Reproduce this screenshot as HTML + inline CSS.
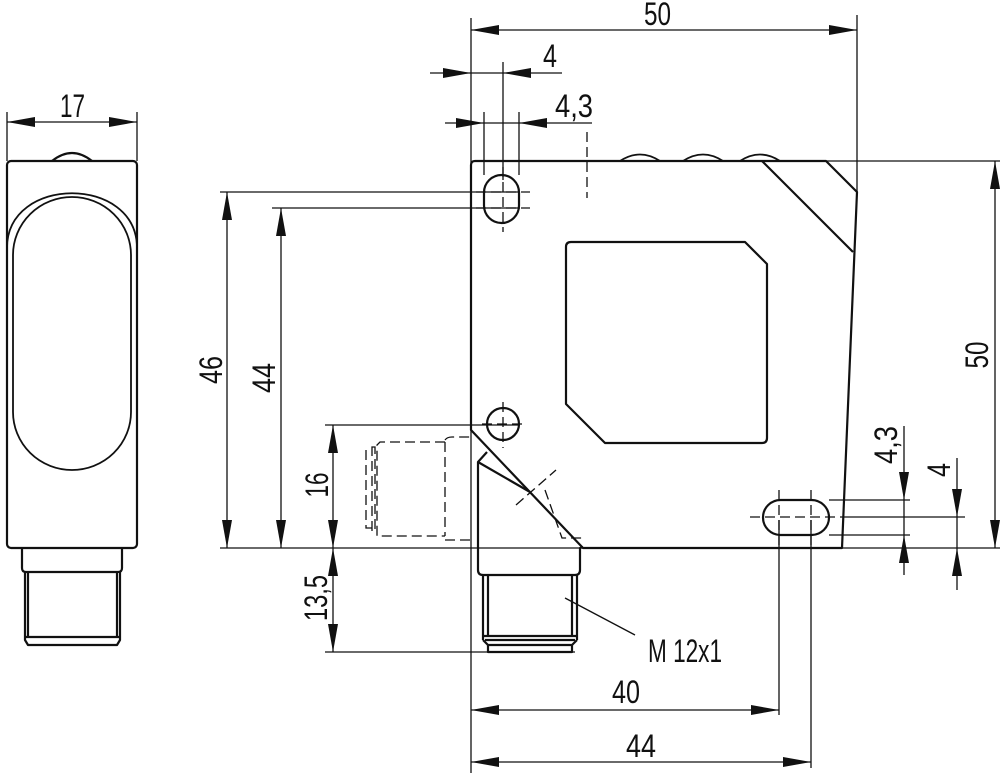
<!DOCTYPE html>
<html><head><meta charset="utf-8"><style>
html,body{margin:0;padding:0;background:#fff}
svg{display:block}
text{font-family:"Liberation Sans",sans-serif;font-size:32px;fill:#111}
</style></head><body>
<svg width="1000" height="773" viewBox="0 0 1000 773" xmlns="http://www.w3.org/2000/svg">
<defs>
<marker id="a" viewBox="0 0 28 10" refX="28" refY="5" markerWidth="28" markerHeight="10" markerUnits="userSpaceOnUse" orient="auto-start-reverse"><path d="M0,0L28,5L0,10z" fill="#111"/></marker>
</defs>
<g fill="none" stroke="#111" stroke-width="2.2" stroke-linejoin="round">
<rect x="7" y="161" width="130" height="387" rx="4"/>
<path d="M52,161 Q72,145 92,161"/>
<path d="M7,248 C7,175 137,175 137,248" stroke-width="1.8"/>
<rect x="13" y="197" width="118" height="273" rx="59" ry="58" stroke-width="1.8"/>
<path d="M22,548 V568 Q22,572 26,572 H118 Q122,572 122,568 V548"/>
<path d="M25,572 V640 L28,645 H117 L120,640 V572 M28,572V637 M117,572V637 M25,637H120"/>
<path d="M475,161 H826 L857,192 L842,548 H583 L471,430 V165 Q471,161 475,161 Z"/>
<path d="M762,161 L853,252"/>
<path d="M620,161 Q640,148 660,161 M683,161 Q703,148 723,161 M740,161 Q760,148 780,161" stroke-width="1.8"/>
<path d="M571,242 H745 L767,264 V438 Q767,443 762,443 H605 L566,404 V247 Q566,242 571,242 Z"/>
<path d="M487,452 L478,462 V570 Q478,575 483,575 H575 Q580,575 580,570 V548 L583,547"/>
<path d="M478,462 L530,492" />
<path d="M483,575 V640 M577,575 V640 M488,575V636 M572,575V636 M483,636H577 M485,640H575 M488,645 V652 H572 V645"/>
<path d="M483,640 L488,645 H572 L577,640"/>
<rect x="484" y="175" width="35" height="48" rx="17.5"/>
<circle cx="503" cy="424" r="16"/>
<rect x="763" y="500" width="66" height="35" rx="17.5"/>
</g>
<g fill="none" stroke="#111" stroke-width="1.3">
<g stroke-dasharray="10,5">
<path d="M503,167V232 M476,192H530 M476,208H530 M503,402V448 M482,424H525 M750,517H845 M779,490V545 M811,490V545"/>
<path d="M587,132V198"/>
<path d="M516,505 L556,470 M545,490 L562,538 L583,538"/>
<path d="M445,442 H380 L377,445 V536 H445 M445,442 V536 M372,447 H375 V531 H372 Z M366,450 V528 H372"/>
<path d="M445,440 Q447,437 452,437 H470 M445,540 H475"/>
</g>
<path d="M471,18V773 M857,15V192 M826,161H1000 M220,192H520 M272,208H520 M325,425H520 M220,548H1000 M325,652H575 M779,520V715 M811,520V768 M829,500H910 M845,517H965 M829,535H910 M503,62V180 M484,112V175 M519,112V175 M7,112V161 M137,112V161"/>
<path d="M565,598 L635,635"/>
<path d="M471,30H857" marker-start="url(#a)" marker-end="url(#a)"/>
<path d="M430,73H471" marker-end="url(#a)"/><path d="M562,73H503" marker-end="url(#a)"/><path d="M471,73H503"/>
<path d="M445,123H484" marker-end="url(#a)"/><path d="M592,123H519" marker-end="url(#a)"/><path d="M484,123H519"/>
<path d="M227,192V548" marker-start="url(#a)" marker-end="url(#a)"/>
<path d="M281,208V548" marker-start="url(#a)" marker-end="url(#a)"/>
<path d="M333,425V548" marker-start="url(#a)" marker-end="url(#a)"/>
<path d="M333,548V652" marker-start="url(#a)" marker-end="url(#a)"/>
<path d="M995,161V548" marker-start="url(#a)" marker-end="url(#a)"/>
<path d="M904,426V500" marker-end="url(#a)"/><path d="M904,575V535" marker-end="url(#a)"/><path d="M904,500V535"/>
<path d="M957,458V517" marker-end="url(#a)"/><path d="M957,590V548" marker-end="url(#a)"/><path d="M957,517V548"/>
<path d="M471,710H779" marker-start="url(#a)" marker-end="url(#a)"/>
<path d="M471,762H811" marker-start="url(#a)" marker-end="url(#a)"/>
<path d="M7,122H137" marker-start="url(#a)" marker-end="url(#a)"/>
</g>
<g>
<text x="644" y="25" textLength="27" lengthAdjust="spacingAndGlyphs">50</text>
<text x="543" y="67" textLength="14" lengthAdjust="spacingAndGlyphs">4</text>
<text x="555" y="117" textLength="38" lengthAdjust="spacingAndGlyphs">4,3</text>
<text x="60" y="117" textLength="25" lengthAdjust="spacingAndGlyphs">17</text>
<text x="612" y="703" textLength="28" lengthAdjust="spacingAndGlyphs">40</text>
<text x="626" y="757" textLength="30" lengthAdjust="spacingAndGlyphs">44</text>
<text x="648" y="662" textLength="74" lengthAdjust="spacingAndGlyphs">M 12x1</text>
<text transform="translate(222,370) rotate(-90)" text-anchor="middle" textLength="28" lengthAdjust="spacingAndGlyphs">46</text>
<text transform="translate(275,378) rotate(-90)" text-anchor="middle" textLength="30" lengthAdjust="spacingAndGlyphs">44</text>
<text transform="translate(328,485) rotate(-90)" text-anchor="middle" textLength="25" lengthAdjust="spacingAndGlyphs">16</text>
<text transform="translate(327,598) rotate(-90)" text-anchor="middle" textLength="46" lengthAdjust="spacingAndGlyphs">13,5</text>
<text transform="translate(988,355) rotate(-90)" text-anchor="middle" textLength="27" lengthAdjust="spacingAndGlyphs">50</text>
<text transform="translate(897,445) rotate(-90)" text-anchor="middle" textLength="38" lengthAdjust="spacingAndGlyphs">4,3</text>
<text transform="translate(950,470) rotate(-90)" text-anchor="middle" textLength="14" lengthAdjust="spacingAndGlyphs">4</text>
</g>
</svg>
</body></html>
